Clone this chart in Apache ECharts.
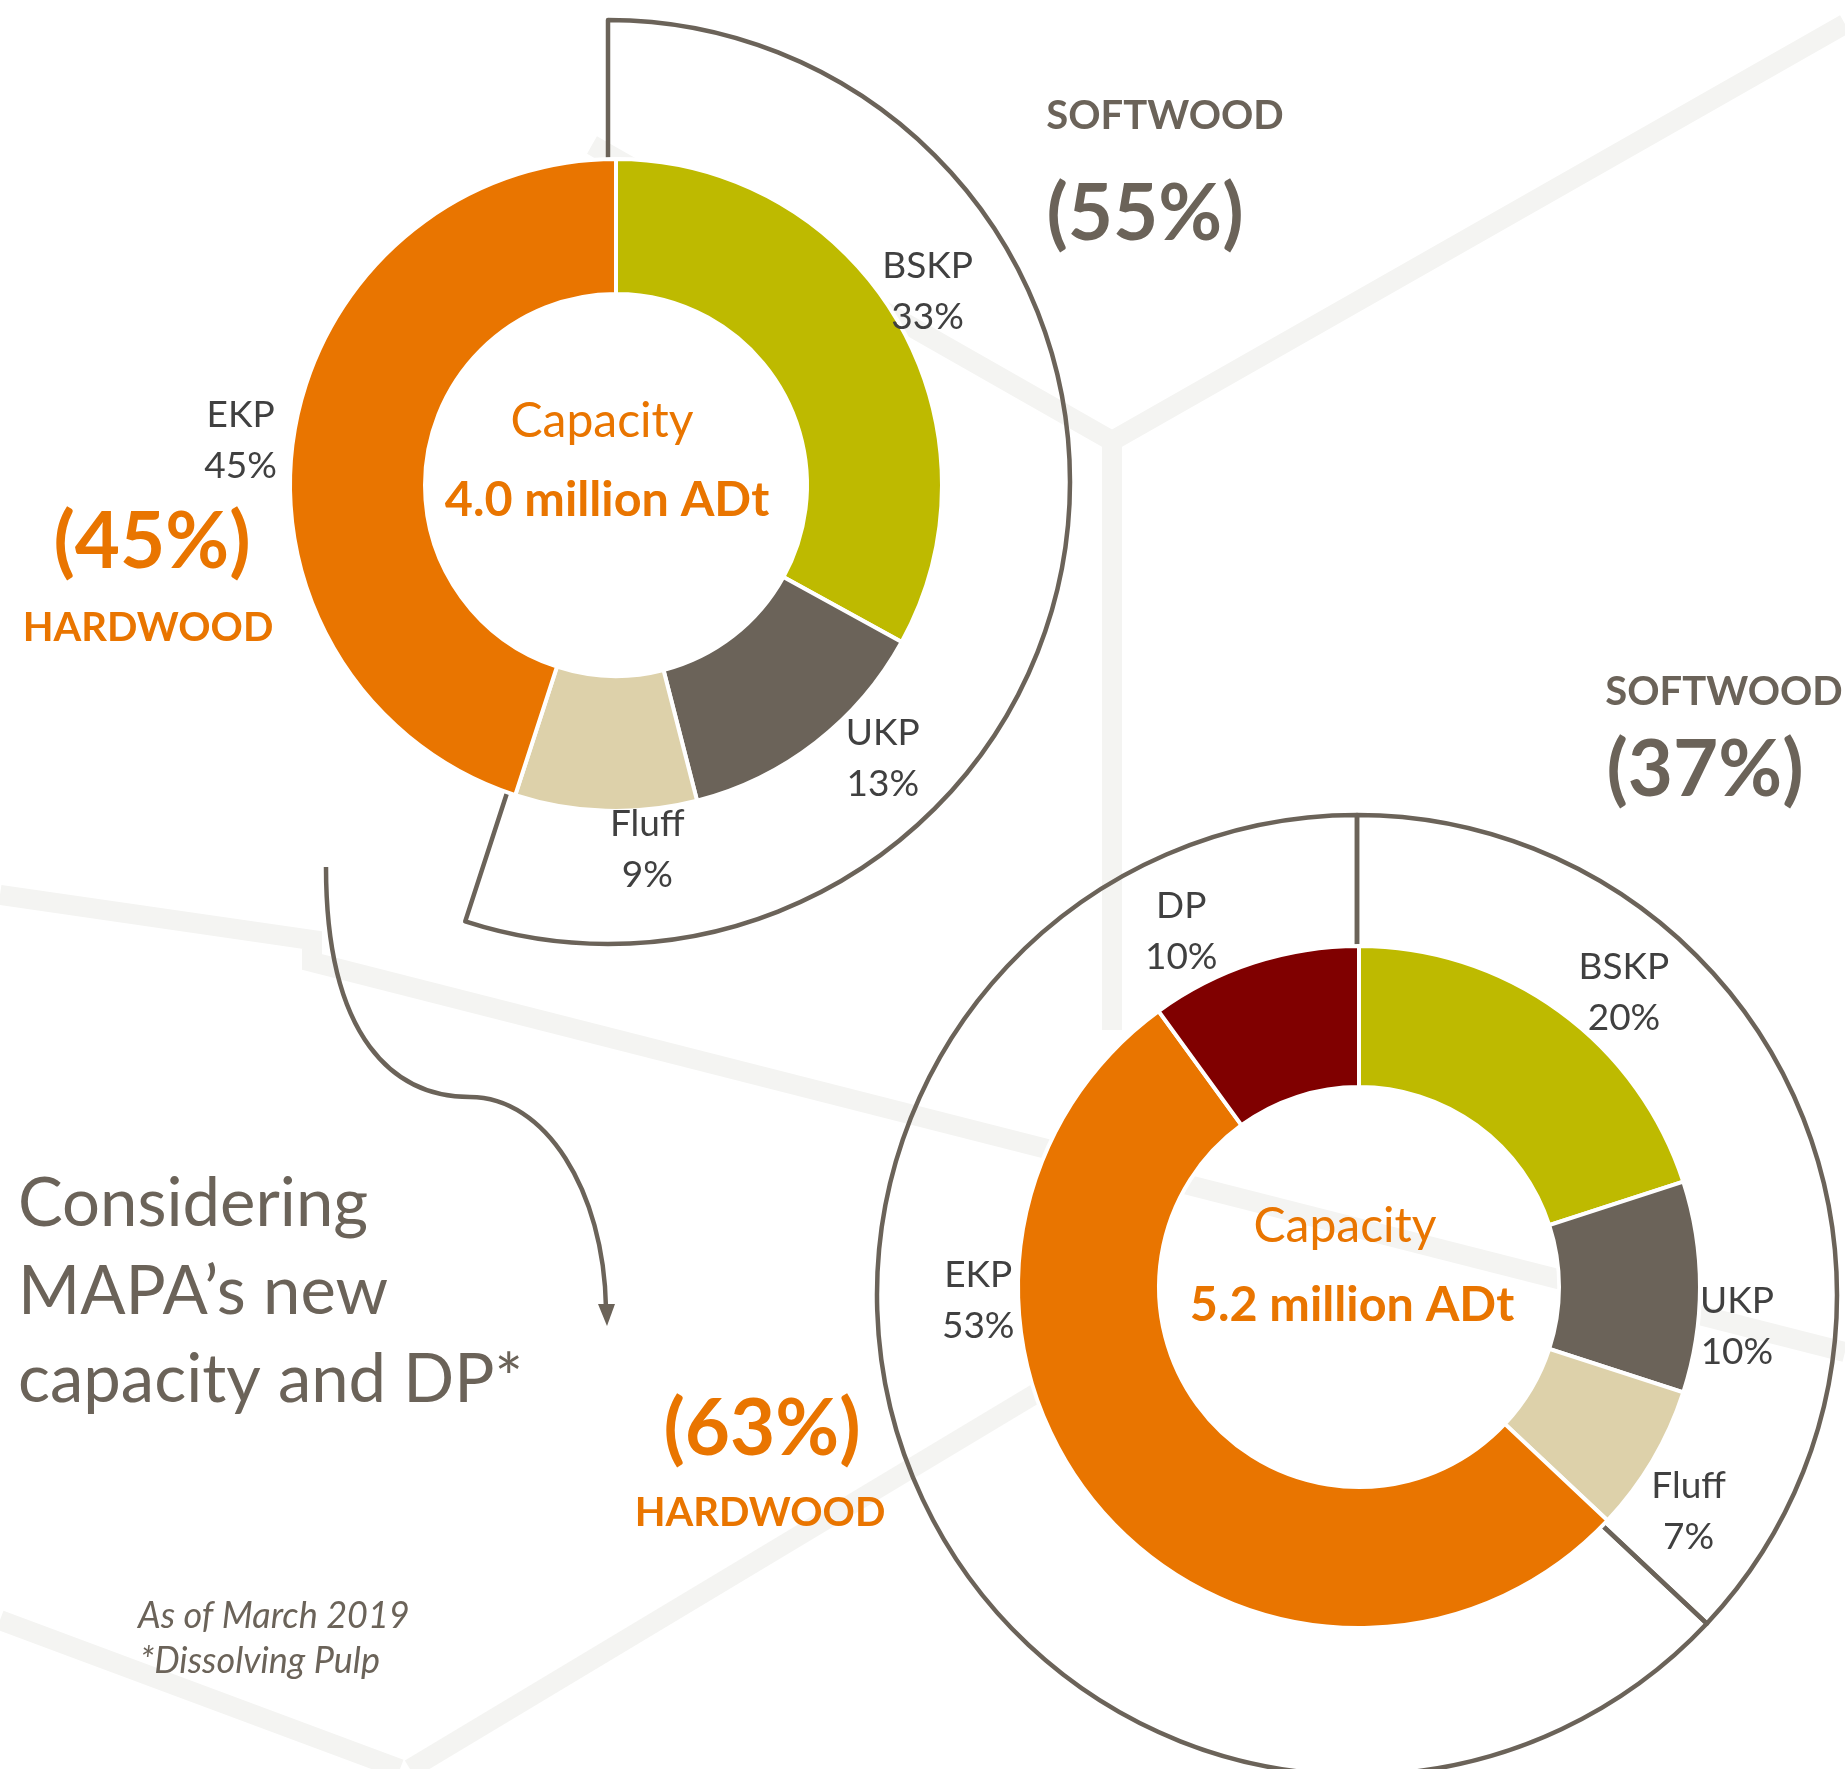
<!DOCTYPE html>
<html>
<head>
<meta charset="utf-8">
<script src="https://cdn.jsdelivr.net/npm/echarts@6/dist/echarts.min.js"></script>
<style>
  html, body { margin: 0; padding: 0; background: #fff; }
  #chart { width: 1845px; height: 1769px; }
</style>
</head>
<body>
<div id="chart"></div>
<script>
// pulp capacity mix, before and after MAPA (shares in %)
const topNames = ['BSKP', 'UKP', 'Fluff', 'EKP'];
const topShares = [33, 13, 9, 45];
const bottomNames = ['BSKP', 'UKP', 'Fluff', 'EKP', 'DP'];
const bottomShares = [20, 10, 7, 53, 10];
const softwoodGrades = ['BSKP', 'UKP', 'Fluff'];
const topCapacity = '4.0 million ADt';
const bottomCapacity = '5.2 million ADt';

const gradeColors = {
  BSKP: '#BEBA00',
  UKP: '#6B6359',
  Fluff: '#DDD1AA',
  EKP: '#E97500',
  DP: '#800000'
};
const ORANGE = '#E97500';
const BROWN = '#6B6359';
const LABEL = '#404040';
const FONT = 'Lato, "Open Sans", sans-serif';

// layout (px)
const topCenter = [616, 485];
const bottomCenter = [1359, 1287];
// label distance from centre and small angle nudges (deg) to sit where the original did
const topLabelR = [367, 382, 366, 378];
const topLabelNudge = [-1.3, -6.5, -6.7, -2.2];
const bottomLabelR = [396, 380, 399, 381, 397];
const bottomLabelNudge = [6, 6, 3.7, 39.4, -8.6];

const sumOf = (names, shares, pick) =>
  shares.reduce((s, v, i) => s + (pick(names[i]) ? v : 0), 0);

const topSoft = sumOf(topNames, topShares, n => softwoodGrades.includes(n));
const topHard = sumOf(topNames, topShares, n => !softwoodGrades.includes(n));
const bottomSoft = sumOf(bottomNames, bottomShares, n => softwoodGrades.includes(n));
const bottomHard = sumOf(bottomNames, bottomShares, n => !softwoodGrades.includes(n));

function labelLayoutFor(shares, center, radii, nudges) {
  const total = shares.reduce((a, b) => a + b, 0);
  const mids = [];
  let acc = 0;
  shares.forEach(v => { mids.push((acc + v / 2) / total * 360); acc += v; });
  return function (p) {
    const a = (mids[p.dataIndex] + nudges[p.dataIndex]) * Math.PI / 180;
    const r = radii[p.dataIndex];
    return {
      x: center[0] + r * Math.sin(a),
      y: center[1] - r * Math.cos(a),
      align: 'center',
      verticalAlign: 'middle'
    };
  };
}

function donut(names, shares, center, radius, labelR, nudge) {
  return {
    type: 'pie',
    center: center,
    radius: radius,
    startAngle: 90,
    clockwise: true,
    silent: true,
    z: 3,
    itemStyle: { borderColor: '#fff', borderWidth: 4 },
    label: {
      show: true,
      position: 'inside',
      formatter: '{b}\n{c}%',
      color: LABEL,
      fontFamily: FONT,
      fontSize: 37,
      lineHeight: 51
    },
    labelLine: { show: false },
    labelLayout: labelLayoutFor(shares, center, labelR, nudge),
    data: names.map((n, i) => ({ name: n, value: shares[i], itemStyle: { color: gradeColors[n] } }))
  };
}

// bracket ring showing the softwood share
function bracket(soft, hard, center, radius, outlineHard) {
  return {
    type: 'pie',
    center: center,
    radius: radius,
    startAngle: 90,
    clockwise: true,
    silent: true,
    z: 2,
    label: { show: false },
    labelLine: { show: false },
    data: [
      { name: 'Softwood', value: soft, itemStyle: { color: 'rgba(0,0,0,0)', borderColor: BROWN, borderWidth: 4.5 } },
      { name: 'Hardwood', value: hard, itemStyle: { color: 'rgba(0,0,0,0)', borderColor: outlineHard ? BROWN : 'rgba(0,0,0,0)', borderWidth: outlineHard ? 4.5 : 0 } }
    ]
  };
}

function text(x, y, str, size, weight, color, align) {
  return {
    type: 'text',
    x: x,
    y: y,
    z: 20,
    silent: true,
    style: {
      text: str,
      fill: color,
      font: (weight || 'normal') + ' ' + size + 'px ' + FONT,
      textAlign: align || 'center',
      textVerticalAlign: 'middle'
    }
  };
}

function band(points) {
  return {
    type: 'polyline',
    z: -10,
    silent: true,
    shape: { points: points },
    style: { stroke: '#F4F4F2', lineWidth: 20, fill: null, lineJoin: 'miter' }
  };
}

const graphics = [
  // faint hexagon pattern in the background
  band([[1845, 24], [1112, 441], [592, 145]]),
  band([[1112, 441], [1112, 1030]]),
  band([[0, 895], [312, 940], [312, 962], [1845, 1352]]),
  band([[0, 1620], [400, 1769]]),
  band([[410, 1769], [1050, 1385]]),

  // headings
  text(1165, 116, 'SOFTWOOD', 40, 'bold', BROWN),
  text(1145, 215, '(' + topSoft + '%)', 78, 'bold', BROWN),
  text(152, 543, '(' + topHard + '%)', 78, 'bold', ORANGE),
  text(148, 628, 'HARDWOOD', 40, 'bold', ORANGE),
  text(1724, 692, 'SOFTWOOD', 40, 'bold', BROWN),
  text(1705, 771, '(' + bottomSoft + '%)', 78, 'bold', BROWN),
  text(762, 1430, '(' + bottomHard + '%)', 78, 'bold', ORANGE),
  text(760, 1513, 'HARDWOOD', 40, 'bold', ORANGE),

  // centre captions
  text(602, 422, 'Capacity', 48, 'normal', ORANGE),
  text(607, 500, topCapacity, 48.5, 'bold', ORANGE),
  text(1345, 1227, 'Capacity', 48, 'normal', ORANGE),
  text(1352, 1305, bottomCapacity, 48.5, 'bold', ORANGE),

  // side note
  {
    type: 'text', x: 18, y: 1160, z: 20, silent: true,
    style: {
      text: 'Considering\nMAPA\u2019s new\ncapacity and DP*',
      fill: BROWN, font: 'normal 67px ' + FONT, lineHeight: 88,
      textAlign: 'left', textVerticalAlign: 'top'
    }
  },
  text(138, 1616, 'As of March 2019', 36, 'italic', BROWN, 'left'),
  text(140, 1661, '*Dissolving Pulp', 36, 'italic', BROWN, 'left'),

  // arrow from the first chart to the second
  {
    type: 'bezierCurve', z: 5, silent: true,
    shape: { x1: 326, y1: 867, cpx1: 326, cpy1: 1040, cpx2: 395, cpy2: 1097, x2: 470, y2: 1097 },
    style: { stroke: BROWN, lineWidth: 4.5, fill: null }
  },
  {
    type: 'bezierCurve', z: 5, silent: true,
    shape: { x1: 470, y1: 1097, cpx1: 545, cpy1: 1097, cpx2: 604, cpy2: 1190, x2: 606, y2: 1308 },
    style: { stroke: BROWN, lineWidth: 4.5, fill: null }
  },
  {
    type: 'polygon', z: 5, silent: true,
    shape: { points: [[598, 1304], [615, 1304], [607, 1326]] },
    style: { fill: BROWN }
  }
];

const chart = echarts.init(document.getElementById('chart'), null, { renderer: 'canvas' });
chart.setOption({
  backgroundColor: '#fff',
  animation: false,
  graphic: graphics,
  series: [
    bracket(topSoft, topHard, [608, 482], [318, 462], false),
    donut(topNames, topShares, topCenter, [191, 326], topLabelR, topLabelNudge),
    bracket(bottomSoft, bottomHard, [1357, 1295], [320, 480], true),
    donut(bottomNames, bottomShares, bottomCenter, [200, 341], bottomLabelR, bottomLabelNudge)
  ]
});
</script>
</body>
</html>
